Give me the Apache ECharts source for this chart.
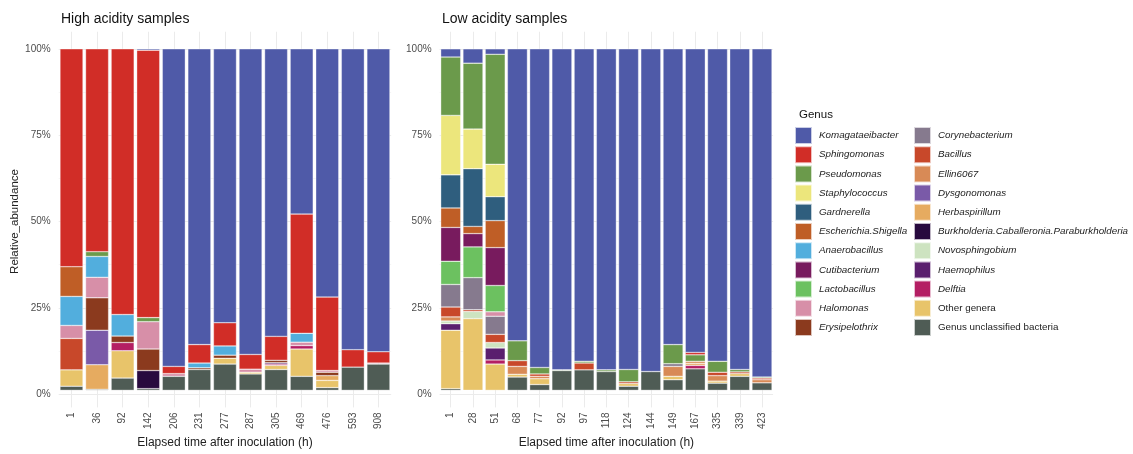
<!DOCTYPE html>
<html>
<head>
<meta charset="utf-8">
<title>Genus composition over time</title>
<script src="https://cdn.jsdelivr.net/npm/echarts@6/dist/echarts.min.js"></script>
<style>
  html, body { margin: 0; padding: 0; background: #ffffff; }
  #chart { width: 1133px; height: 454px; }
</style>
</head>
<body>
<div id="chart"></div>
<script>
// Sampling times (h) for each acidity group
const highSamples = ['1', '36', '92', '142', '206', '231', '277', '287', '305', '469', '476', '593', '908'];
const lowSamples = ['1', '28', '51', '68', '77', '92', '97', '118', '124', '144', '149', '167', '335', '339', '423'];

// Genera in legend order (top of each stack first)
const genera = [
  'Komagataeibacter', 'Sphingomonas', 'Pseudomonas', 'Staphylococcus', 'Gardnerella',
  'Escherichia.Shigella', 'Anaerobacillus', 'Cutibacterium', 'Lactobacillus', 'Halomonas',
  'Erysipelothrix', 'Corynebacterium', 'Bacillus', 'Ellin6067', 'Dysgonomonas',
  'Herbaspirillum', 'Burkholderia.Caballeronia.Paraburkholderia', 'Novosphingobium',
  'Haemophilus', 'Delftia', 'Other genera', 'Genus unclassified bacteria'
];
const generaColors = [
  '#4f5aa8', '#d12d27', '#6b9a4b', '#ece67c', '#2f5e7e',
  '#bf5e26', '#52aedd', '#781b5e', '#6cc160', '#d78fa8',
  '#8b3a1e', '#867a8e', '#c8482a', '#d88a56', '#7a5aa8',
  '#e6ab60', '#280a3e', '#cde3c0', '#5a1f6e', '#b41e63',
  '#e8c46a', '#4f5c55'
];
const uprightNames = ['Other genera', 'Genus unclassified bacteria'];

// Relative abundance (%) — high acidity samples
const highKomagataeibacter = [0, 0, 0, 0.4, 93.0, 86.6, 80.2, 89.5, 84.2, 48.4, 72.7, 88.1, 88.7];
const highSphingomonas     = [63.8, 59.4, 77.8, 78.3, 2.1, 5.4, 6.8, 4.3, 7.0, 34.9, 21.5, 5.1, 3.3];
const highPseudomonas      = [0, 1.4, 0, 1.2, 0, 0, 0, 0, 0, 0, 0, 0, 0];
const highStaphylococcus   = [0, 0, 0, 0, 0, 0, 0, 0, 0, 0, 0, 0, 0];
const highGardnerella      = [0, 0, 0, 0, 0, 0, 0, 0, 0, 0, 0, 0, 0];
const highEscherichia      = [8.7, 0, 0, 0, 0, 0, 0, 0, 0, 0, 0, 0, 0];
const highAnaerobacillus   = [8.5, 6.1, 6.3, 0, 0, 1.4, 2.7, 0, 0, 2.6, 0, 0, 0];
const highCutibacterium    = [0, 0, 0, 0, 0, 0, 0, 0, 0, 0, 0, 0, 0];
const highLactobacillus    = [0, 0, 0, 0, 0, 0, 0, 0, 0, 0, 0, 0, 0];
const highHalomonas        = [3.8, 6.0, 0, 8.0, 0.8, 0, 0, 0.9, 0, 1.0, 0.5, 0, 0.3];
const highErysipelothrix   = [0, 9.5, 1.9, 6.3, 0, 0.5, 0.9, 0, 0.7, 0, 1.0, 0, 0];
const highCorynebacterium  = [0, 0, 0, 0, 0, 0, 0, 0, 0, 0, 0, 0, 0];
const highBacillus         = [9.2, 0, 0, 0, 0, 0, 0, 0, 0, 0, 0, 0, 0];
const highEllin6067        = [0, 0, 0, 0, 0, 0, 0, 0, 0, 0, 0, 0, 0];
const highDysgonomonas     = [0, 10.1, 0, 0, 0, 0, 0, 0, 0, 0, 0, 0, 0];
const highHerbaspirillum   = [0, 7.2, 0, 0, 0, 0, 0, 0, 0, 0, 1.4, 0, 0];
const highBurkholderia     = [0, 0, 0, 5.3, 0, 0, 0, 0, 0, 0, 0, 0, 0];
const highNovosphingobium  = [0, 0, 0, 0, 0, 0, 0, 0, 0, 0, 0, 0, 0];
const highHaemophilus      = [0, 0, 0, 0, 0, 0, 0, 0, 0.4, 0, 0, 0, 0];
const highDelftia          = [0, 0, 2.4, 0, 0, 0, 0, 0, 0.4, 1.0, 0, 0, 0];
const highOther            = [4.8, 0, 8.0, 0, 0, 0, 1.7, 0.5, 1.2, 8.0, 2.1, 0, 0];
const highUnclassified     = [1.2, 0.3, 3.6, 0.5, 4.1, 6.1, 7.7, 4.8, 6.1, 4.1, 0.8, 6.8, 7.7];

// Relative abundance (%) — low acidity samples
const lowKomagataeibacter = [2.4, 4.2, 1.6, 85.5, 93.3, 94.0, 91.5, 94.0, 93.9, 94.5, 86.6, 88.9, 91.5, 93.9, 96.1];
const lowSphingomonas     = [0, 0, 0, 0, 0, 0, 0, 0, 0, 0, 0, 0.7, 0, 0, 0];
const lowPseudomonas      = [17.1, 19.3, 32.2, 5.8, 1.9, 0.2, 0.5, 0.5, 3.6, 0, 5.6, 1.9, 3.2, 0.7, 0.3];
const lowStaphylococcus   = [17.4, 11.6, 9.5, 0, 0, 0, 0, 0, 0, 0, 0, 0, 0, 0, 0];
const lowGardnerella      = [9.7, 16.9, 7.0, 0, 0, 0, 0, 0, 0, 0, 0, 0, 0, 0, 0];
const lowEscherichia      = [5.7, 2.1, 7.9, 0, 0, 0, 0, 0, 0, 0, 0, 0, 0, 0, 0];
const lowAnaerobacillus   = [0, 0, 0, 0, 0, 0, 0, 0, 0, 0, 0, 0, 0, 0, 0];
const lowCutibacterium    = [9.9, 3.9, 11.1, 0, 0, 0, 0, 0, 0, 0, 0, 0, 0, 0, 0];
const lowLactobacillus    = [6.8, 9.0, 7.7, 0, 0, 0, 0, 0, 0, 0, 0, 0, 0, 0, 0];
const lowHalomonas        = [0, 0, 1.3, 0, 0, 0, 0, 0, 0, 0, 0, 0, 0, 0, 0];
const lowErysipelothrix   = [0, 0, 0, 0, 0, 0, 0, 0, 0, 0, 0, 0, 0, 0, 0];
const lowCorynebacterium  = [6.6, 9.4, 5.3, 0, 0, 0, 0, 0, 0, 0, 0.8, 0, 0, 0, 0];
const lowBacillus         = [2.9, 0.5, 2.4, 1.7, 0.7, 0, 2.0, 0, 0.5, 0, 0, 0, 1.0, 0.5, 0.5];
const lowEllin6067        = [1.2, 0, 0, 2.3, 0.7, 0, 0, 0, 0, 0, 2.9, 0.6, 1.6, 0, 0.9];
const lowDysgonomonas     = [0, 0, 0, 0, 0, 0, 0, 0, 0, 0, 0, 0, 0, 0, 0];
const lowHerbaspirillum   = [0, 0, 0, 0, 0, 0, 0, 0, 0, 0, 0, 0.6, 0, 0, 0];
const lowBurkholderia     = [0, 0, 0, 0, 0, 0, 0, 0, 0, 0, 0, 0, 0, 0, 0];
const lowNovosphingobium  = [0.8, 2.1, 1.6, 0, 0, 0, 0, 0, 0, 0, 0, 0, 0, 0, 0];
const lowHaemophilus      = [1.9, 0, 3.5, 0, 0, 0, 0, 0, 0, 0, 0, 0, 0, 0, 0];
const lowDelftia          = [0, 0, 1.2, 0, 0, 0, 0, 0, 0, 0, 0, 1.0, 0, 0, 0];
const lowOther            = [17.1, 21.0, 7.7, 0.8, 1.7, 0, 0, 0, 0.8, 0, 1.0, 0, 0.6, 0.8, 0];
const lowUnclassified     = [0.5, 0, 0, 3.9, 1.7, 5.8, 6.0, 5.5, 1.2, 5.5, 3.1, 6.3, 2.1, 4.1, 2.2];

// Axis tick values of the relative abundance scale
const abundanceTicks = [0, 25, 50, 75, 100];

const highValues = [
  highKomagataeibacter, highSphingomonas, highPseudomonas, highStaphylococcus, highGardnerella,
  highEscherichia, highAnaerobacillus, highCutibacterium, highLactobacillus, highHalomonas,
  highErysipelothrix, highCorynebacterium, highBacillus, highEllin6067, highDysgonomonas,
  highHerbaspirillum, highBurkholderia, highNovosphingobium, highHaemophilus, highDelftia,
  highOther, highUnclassified
];
const lowValues = [
  lowKomagataeibacter, lowSphingomonas, lowPseudomonas, lowStaphylococcus, lowGardnerella,
  lowEscherichia, lowAnaerobacillus, lowCutibacterium, lowLactobacillus, lowHalomonas,
  lowErysipelothrix, lowCorynebacterium, lowBacillus, lowEllin6067, lowDysgonomonas,
  lowHerbaspirillum, lowBurkholderia, lowNovosphingobium, lowHaemophilus, lowDelftia,
  lowOther, lowUnclassified
];

const FONT = 'Liberation Sans, Arial, Helvetica, sans-serif';
const TICK_COLOR = '#4d4d4d';
const GRID_MAJOR = '#ebebeb';
const GRID_MINOR = '#f5f5f5';

// Panel geometry: bar panel (with 5% padding above/below) and 0–100% scale panel
const panels = [
  { left: 58.7, width: 332.5, samples: highSamples, values: highValues, title: 'High acidity samples', titleLeft: 56 },
  { left: 439.6, width: 333.5, samples: lowSamples, values: lowValues, title: 'Low acidity samples', titleLeft: 437 }
];
const scaleTop = 49, scaleHeight = 345;
const padPx = scaleHeight * 0.05;

const grids = [], xAxes = [], yAxes = [], series = [];

panels.forEach((p, pi) => {
  // grid for bars (extended range -5..105)
  grids.push({ left: p.left, width: p.width, top: scaleTop - padPx, height: scaleHeight + 2 * padPx });
  // grid for the percentage scale
  grids.push({ left: p.left, width: p.width, top: scaleTop, height: scaleHeight });

  xAxes.push({
    type: 'category',
    gridIndex: pi * 2,
    data: p.samples,
    axisLine: { show: false },
    axisTick: { show: false },
    axisLabel: { rotate: 90, margin: 5, fontSize: 10, color: TICK_COLOR, fontFamily: FONT, interval: 0 },
    splitLine: { show: true, alignWithLabel: true, lineStyle: { color: GRID_MAJOR, width: 1 } },
    name: 'Elapsed time after inoculation (h)',
    nameLocation: 'middle',
    nameGap: 22,
    nameTextStyle: { fontSize: 12, color: '#222', fontFamily: FONT }
  });
  xAxes.push({ type: 'value', gridIndex: pi * 2 + 1, min: 0, max: 1, show: false });

  yAxes.push({ type: 'value', gridIndex: pi * 2, min: -5, max: 105, show: false });
  yAxes.push({
    type: 'value',
    gridIndex: pi * 2 + 1,
    min: 0, max: 100, interval: 12.5,
    axisLine: { show: false },
    axisTick: { show: false },
    axisLabel: {
      margin: 8, fontSize: 10, color: TICK_COLOR, fontFamily: FONT,
      formatter: v => abundanceTicks.includes(v) ? v + '%' : ''
    },
    splitLine: { show: true, lineStyle: { color: [GRID_MAJOR, GRID_MINOR], width: 1 } },
    name: pi === 0 ? 'Relative_abundance' : '',
    nameLocation: 'middle',
    nameGap: 33,
    nameTextStyle: { fontSize: 11.5, color: '#222', fontFamily: FONT }
  });

  // stack from the bottom: last genus in the legend sits at the base
  for (let g = genera.length - 1; g >= 0; g--) {
    series.push({
      type: 'bar',
      name: genera[g],
      xAxisIndex: pi * 2,
      yAxisIndex: pi * 2,
      stack: 'panel' + pi,
      barCategoryGap: '10%',
      data: p.values[g].map(v => (v === 0 ? null : v)),
      itemStyle: { color: generaColors[g], borderColor: 'rgba(255,255,255,0.7)', borderWidth: 0.5 },
      emphasis: { disabled: true },
      silent: true,
      animation: false
    });
  }
});

const legendCommon = {
  orient: 'vertical',
  itemWidth: 17,
  itemHeight: 17,
  itemGap: 0.2,
  padding: 0,
  icon: 'rect',
  selectedMode: false,
  formatter: name => uprightNames.includes(name) ? '{u|' + name + '}' : '{i|' + name + '}',
  textStyle: {
    fontFamily: FONT,
    fontSize: 9.8,
    lineHeight: 12,
    color: '#222',
    rich: {
      i: { fontStyle: 'italic', fontSize: 9.8, lineHeight: 12, fontFamily: FONT, color: '#222', padding: [0, 0, 0, 2] },
      u: { fontSize: 9.8, lineHeight: 12, fontFamily: FONT, color: '#222', padding: [0, 0, 0, 2] }
    }
  }
};

const option = {
  backgroundColor: '#ffffff',
  animation: false,
  title: [
    { text: panels[0].title, left: panels[0].titleLeft, top: 7, textStyle: { fontSize: 14, fontWeight: 'normal', color: '#111', fontFamily: FONT } },
    { text: panels[1].title, left: panels[1].titleLeft, top: 7, textStyle: { fontSize: 14, fontWeight: 'normal', color: '#111', fontFamily: FONT } },
    { text: 'Genus', left: 794, top: 104, textStyle: { fontSize: 11.5, fontWeight: 'normal', color: '#111', fontFamily: FONT } }
  ],
  grid: grids,
  xAxis: xAxes,
  yAxis: yAxes,
  legend: [
    Object.assign({}, legendCommon, { left: 794, top: 126, data: genera.slice(0, 11) }),
    Object.assign({}, legendCommon, { left: 913, top: 126, data: genera.slice(11) })
  ],
  series: series
};

const chart = echarts.init(document.getElementById('chart'), null, { renderer: 'canvas' });
chart.setOption(option);
</script>
</body>
</html>
